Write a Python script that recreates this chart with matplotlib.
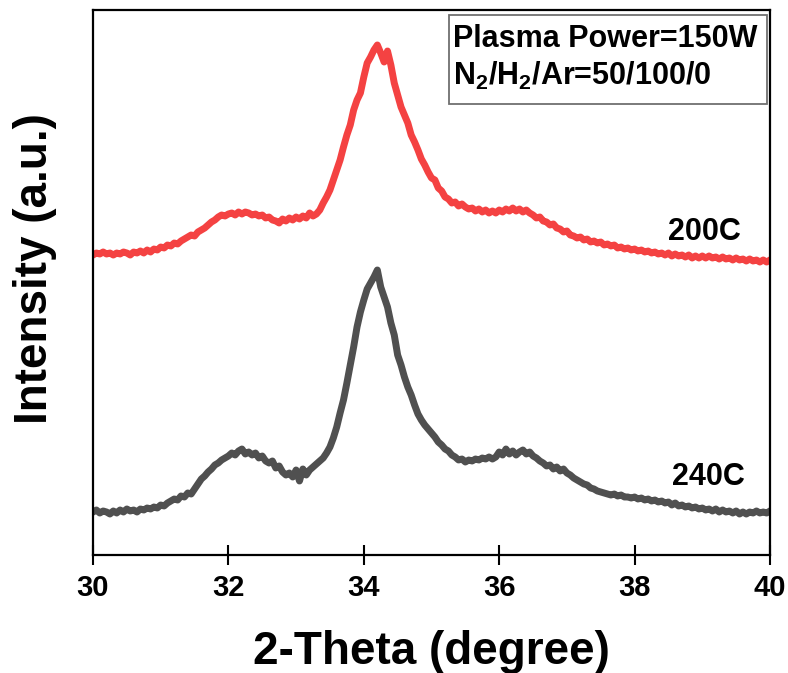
import numpy as np
import matplotlib
matplotlib.use("Agg")
import matplotlib.pyplot as plt
from matplotlib.patches import Rectangle

plt.rcParams['font.family'] = ['Liberation Sans', 'DejaVu Sans']
plt.rcParams['font.weight'] = 'bold'
plt.rcParams['mathtext.fontset'] = 'custom'
plt.rcParams['mathtext.rm'] = 'Liberation Sans:bold'
plt.rcParams['mathtext.bf'] = 'Liberation Sans:bold'
plt.rcParams['mathtext.default'] = 'rm'

# 2-theta sampling grid (degrees)
two_theta = np.round(30 + 0.05 * np.arange(201), 2)

# 200C pattern (arbitrary intensity units, offset for stacking)
int_200C = [
    300, 302, 301, 303, 301, 302, 300, 302, 301, 303, 302, 300, 303, 302, 304, 302, 305, 303, 306, 305,
    308, 307, 310, 309, 312, 311, 314, 316, 318, 320, 319, 323, 325, 327, 330, 333, 335, 338, 340, 339,
    341, 342, 340, 343, 341, 343, 342, 340, 341, 339, 340, 337, 338, 335, 334, 332, 336, 334, 337, 335,
    338, 336, 339, 337, 342, 339, 341, 345, 352, 358, 365, 375, 385, 395, 408, 420, 430, 445, 455, 462,
    478, 492, 498, 505, 510, 502, 493, 504, 490, 472, 460, 448, 440, 432, 420, 413, 405, 396, 390, 383,
    377, 375, 367, 364, 358, 356, 352, 353, 349, 351, 348, 346, 347, 344, 346, 343, 345, 342, 344, 342,
    345, 343, 346, 344, 347, 344, 346, 343, 345, 342, 340, 337, 338, 334, 333, 330, 331, 327, 326, 323,
    324, 320, 319, 317, 318, 315, 316, 313, 314, 312, 313, 310, 311, 309, 310, 307, 308, 306, 307, 305,
    306, 304, 305, 303, 304, 302, 303, 301, 302, 300, 302, 299, 301, 299, 300, 298, 300, 297, 299, 297,
    299, 297, 299, 297, 298, 296, 298, 296, 297, 295, 297, 295, 296, 294, 296, 294, 295, 293, 295, 293,
    295,
]

# 240C pattern
int_240C = [
    43, 45, 42, 44, 43, 41, 44, 42, 45, 43, 46, 44, 45, 43, 46, 45, 47, 46, 48, 47,
    50, 49, 52, 54, 56, 55, 59, 58, 62, 61, 66, 71, 76, 79, 83, 86, 90, 92, 95, 97,
    99, 102, 100, 104, 106, 101, 103, 100, 102, 97, 99, 94, 92, 94, 87, 89, 83, 80, 82, 78,
    85, 74, 86, 80, 85, 88, 91, 94, 97, 102, 108, 117, 128, 142, 155, 172, 190, 208, 228, 243,
    255, 266, 272, 278, 285, 268, 258, 248, 232, 220, 200, 190, 178, 168, 160, 150, 141, 135, 130, 126,
    122, 118, 113, 110, 106, 104, 100, 98, 95, 96, 93, 95, 94, 96, 95, 97, 96, 98, 96, 98,
    103, 100, 106, 101, 104, 100, 103, 105, 101, 103, 99, 97, 94, 92, 89, 90, 86, 88, 84, 86,
    82, 80, 77, 75, 73, 71, 70, 67, 66, 64, 63, 62, 61, 60, 61, 59, 60, 58, 58, 57,
    58, 56, 57, 55, 56, 54, 55, 53, 54, 52, 53, 50, 52, 49, 50, 48, 49, 47, 48, 46,
    47, 45, 46, 44, 46, 43, 45, 43, 44, 42, 44, 41, 43, 41, 43, 42, 44, 42, 43, 42,
    44,
]

x_ticks = [30, 32, 34, 36, 38, 40]
series_labels = ['200C', '240C']
info_lines = ['Plasma Power=150W', 'N$_2$/H$_2$/Ar=50/100/0']

W, H = 788, 673
fig = plt.figure(figsize=(W / 100, H / 100), dpi=100)
ax = fig.add_axes([93 / W, (H - 555) / H, 677 / W, 545 / H])

ax.plot(two_theta, int_200C, color='#F44242', lw=5.0, solid_joinstyle='round')
ax.plot(two_theta, int_240C, color='#505050', lw=5.0, solid_joinstyle='round')

ax.set_xlim(30, 40)
ax.set_ylim(0, 545)
ax.set_xticks(x_ticks)
ax.set_yticks([])
ax.tick_params(axis='x', direction='inout', length=15, width=1.5, labelsize=21, pad=6)
for lab in ax.get_xticklabels():
    lab.set_fontweight('bold')
for sp in ax.spines.values():
    sp.set_linewidth(1.6)

ax.set_xlabel('2-Theta (degree)', fontsize=33, fontweight='bold', labelpad=20)
ax.set_ylabel('Intensity (a.u.)', fontsize=33, fontweight='bold', labelpad=26)
ax.yaxis.label.set_y(0.525)

ax.text(38.49, 323, series_labels[0], fontsize=22, fontweight='bold', ha='left', va='center')
ax.text(38.55, 78, series_labels[1], fontsize=22, fontweight='bold', ha='left', va='center')

# info box
bx0, bx1 = (449 - 93) / 677, (767 - 93) / 677
by0, by1 = (555 - 104) / 545, (555 - 15) / 545
ax.add_patch(Rectangle((bx0, by0), bx1 - bx0, by1 - by0, transform=ax.transAxes,
                       fill=True, facecolor='white', edgecolor='#707070', lw=1.3, zorder=5))
ax.text((453 - 93) / 677, (555 - 47) / 545, info_lines[0], transform=ax.transAxes,
        fontsize=22, fontweight='bold', ha='left', va='baseline', zorder=6)
ax.text((453 - 93) / 677, (555 - 85) / 545, info_lines[1], transform=ax.transAxes,
        fontsize=22, fontweight='bold', ha='left', va='baseline', zorder=6)

fig.savefig('out.png', dpi=100)
